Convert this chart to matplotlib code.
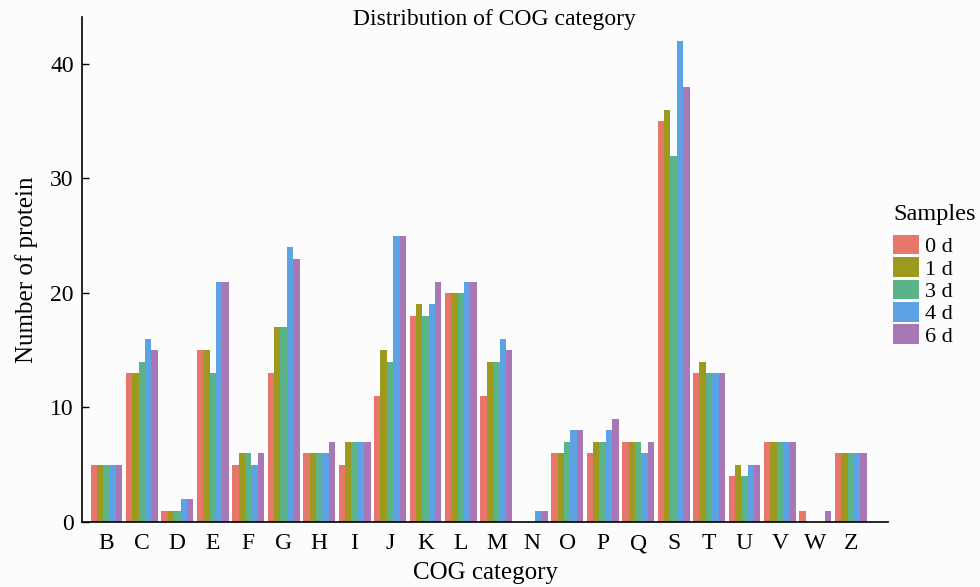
import matplotlib
matplotlib.use("Agg")
import matplotlib.pyplot as plt
import numpy as np

# COG categories and protein counts per sample
categories = ["B", "C", "D", "E", "F", "G", "H", "I", "J", "K", "L",
              "M", "N", "O", "P", "Q", "S", "T", "U", "V", "W", "Z"]
samples = ["0 d", "1 d", "3 d", "4 d", "6 d"]

counts_0d = [5, 13, 1, 15, 5, 13, 6, 5, 11, 18, 20, 11, 0, 6, 6, 7, 35, 13, 4, 7, 1, 6]
counts_1d = [5, 13, 1, 15, 6, 17, 6, 7, 15, 19, 20, 14, 0, 6, 7, 7, 36, 14, 5, 7, 0, 6]
counts_3d = [5, 14, 1, 13, 6, 17, 6, 7, 14, 18, 20, 14, 0, 7, 7, 7, 32, 13, 4, 7, 0, 6]
counts_4d = [5, 16, 2, 21, 5, 24, 6, 7, 25, 19, 21, 16, 1, 8, 8, 6, 42, 13, 5, 7, 0, 6]
counts_6d = [5, 15, 2, 21, 6, 23, 7, 7, 25, 21, 21, 15, 1, 8, 9, 7, 38, 13, 5, 7, 1, 6]

series = [counts_0d, counts_1d, counts_3d, counts_4d, counts_6d]
colors = ["#e8776b", "#9c9a1e", "#5bb38a", "#5da2e4", "#a877b5"]

plt.rcParams["font.family"] = ["Liberation Serif", "DejaVu Serif"]

fig = plt.figure(figsize=(9.8, 5.87), dpi=100, facecolor="#fcfcfc")
ax = fig.add_axes([82 / 980, 65 / 587, 806 / 980, 505 / 587])
ax.set_facecolor("#fcfcfc")

x = np.arange(len(categories))
bar_w = 0.9 / len(series)
for i, (vals, name, col) in enumerate(zip(series, samples, colors)):
    offs = (i - 2) * bar_w
    ax.bar(x + offs, vals, width=bar_w, color=col, label=name, linewidth=0)

ax.set_xlim(-0.69, len(categories) - 1 + 1.05)
ax.set_ylim(0, 44.1)
ax.set_yticks([0, 10, 20, 30, 40])
ax.set_xticks(x)
ax.set_xticklabels(categories)

for s in ["top", "right"]:
    ax.spines[s].set_visible(False)
for s in ["left", "bottom"]:
    ax.spines[s].set_linewidth(1.2)
    ax.spines[s].set_color("black")

ax.tick_params(axis="y", direction="in", length=5, width=1, labelsize=17, pad=6)
ax.tick_params(axis="x", length=0, labelsize=17, pad=8)

ax.set_xlabel("COG category", fontsize=18, labelpad=6)
ax.set_ylabel("Number of protein", fontsize=18, labelpad=9)
fig.text(494 / 980, 1 - 19 / 587, "Distribution of COG category",
         fontsize=17, ha="center", va="center")

leg = fig.legend(loc="upper left", bbox_to_anchor=(893 / 980, 1 - 204 / 587),
                 title="Samples", frameon=False, fontsize=16, title_fontsize=17.5,
                 handlelength=1.15, handleheight=0.98, labelspacing=0.0,
                 handletextpad=0.3, borderaxespad=0, borderpad=0)
leg._legend_box.align = "left"
leg._legend_box.sep = 7

fig.savefig("out.png", dpi=100, facecolor=fig.get_facecolor())
